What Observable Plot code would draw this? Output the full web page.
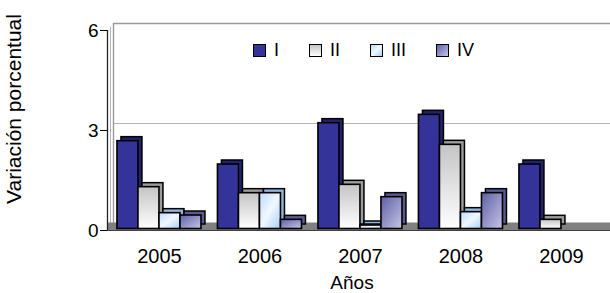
<!DOCTYPE html>
<html>
<head>
<meta charset="utf-8">
<script src="https://cdn.jsdelivr.net/npm/d3@7"></script>
<script src="https://cdn.jsdelivr.net/npm/@observablehq/plot@0.6"></script>
<style>
  html, body { margin: 0; padding: 0; background: #fff; }
  #wrap { position: relative; width: 610px; height: 293px; font-family: "Liberation Sans", Arial, sans-serif; color: #000; }
  #chart { position: absolute; left: 0; top: 0; }
  .ylab { position: absolute; left: -106px; top: 97px; width: 240px; height: 24px; line-height: 24px; text-align: center; font-size: 21px; transform: rotate(-90deg); }
  .xlab { position: absolute; left: 302px; top: 273px; width: 100px; text-align: center; font-size: 19px; line-height: 19px; }
  #legend { position: absolute; left: 253px; top: 43px; display: flex; align-items: center; font-size: 18px; line-height: 14px; }
  #legend .item { display: flex; align-items: center; margin-right: 30px; }
  #legend .sw { width: 13px; height: 13px; box-sizing: border-box; border: 1.6px solid #000; margin-right: 8px; }
</style>
</head>
<body>
<div id="wrap">
  <div id="chart"></div>
  <div class="ylab">Variación porcentual</div>
  <div class="xlab">Años</div>
  <div id="legend"></div>
</div>
<script>
// ---- data ----
const years = ["2005", "2006", "2007", "2008", "2009"];
const quarters = ["I", "II", "III", "IV"];
const serieI   = [2.68, 1.98, 3.22, 3.47, 1.98];
const serieII  = [1.30, 1.12, 1.37, 2.57, 0.32];
const serieIII = [0.52, 1.12, 0.15, 0.55, null];
const serieIV  = [0.45, 0.32, 1.00, 1.12, null];
const yTicks = [0, 3, 6];

// ---- styles ----
const gradIds = ["gI", "gII", "gIII", "gIV"];
const depthColors = ["#22226f", "#9c9c9c", "#8db6da", "#5a5a92"];
const cssGrad = [
  "#333399",
  "linear-gradient(180deg, #c4c4c4, #ffffff)",
  "linear-gradient(135deg, #bcdcff, #f0f8ff 50%, #a8d0f8)",
  "linear-gradient(135deg, #5f5fa5, #c5c5e8)"
];

const series = [serieI, serieII, serieIII, serieIV];
const barW = 0.209;
const rows = [];
series.forEach((vals, j) => {
  vals.forEach((v, i) => {
    if (v == null) return;
    const x1 = i - 2 * barW + barW * j;
    rows.push({year: years[i], q: quarters[j], v, x1, x2: x1 + barW,
               grad: `url(#${gradIds[j]})`, depth: depthColors[j]});
  });
});

const xMin = -0.517, xMax = 4.488;

const chart = Plot.plot({
  width: 610,
  height: 293,
  marginTop: 30,
  marginBottom: 63,
  marginLeft: 107,
  marginRight: 0,
  x: {domain: [xMin, xMax]},
  y: {domain: [0, 6]},
  color: {type: "identity"},
  style: {fontFamily: "'Liberation Sans', Arial, sans-serif", background: "white", color: "#000"},
  marks: [
    // back wall
    Plot.ruleY([3], {dx: 6, dy: -7, stroke: "#b5b5b5", strokeWidth: 1.2}),
    Plot.ruleY([6], {dx: 6, dy: -7, stroke: "#9a9a9a", strokeWidth: 1.4}),
    Plot.ruleX([xMin], {y1: 0, y2: 6, dx: 6, dy: -7, stroke: "#9a9a9a", strokeWidth: 1.4}),
    Plot.ruleX([xMin], {y1: 0, y2: 6, dx: 3, dy: -3, stroke: "#b5b5b5", strokeWidth: 1}),
    // floor
    Plot.ruleY([0], {stroke: "#808080", strokeWidth: 8, dy: -4}),
    Plot.ruleY([0], {stroke: "#404040", strokeWidth: 1}),
    // bar depth (top + side faces)
    Plot.rectY(rows, {x1: "x1", x2: "x2", y1: 0, y2: "v", dx: 4, dy: -4, insetBottom: 2,
                      fill: "depth", stroke: "#000", strokeWidth: 1.5}),
    // bar fronts
    Plot.rectY(rows, {x1: "x1", x2: "x2", y1: 0, y2: "v", insetBottom: 1.5,
                      fill: "grad", stroke: "#000", strokeWidth: 1.6}),
    // axes
    Plot.ruleX([xMin], {y1: 0, y2: 6, stroke: "#222", strokeWidth: 1.3}),
    Plot.axisY({ticks: yTicks, tickFormat: d => String(d), tickSize: 7, tickPadding: 2, fontSize: 19, label: null}),
    Plot.axisX({ticks: years.map((d, i) => i), tickFormat: i => years[i], tickSize: 0,
                tickPadding: 18, fontSize: 20, label: null})
  ]
});

// gradient definitions
const defs = d3.select(chart).insert("defs", ":first-child");
const g1 = defs.append("linearGradient").attr("id", "gI").attr("x1", 0).attr("y1", 0).attr("x2", 0).attr("y2", 1);
g1.append("stop").attr("offset", 0).attr("stop-color", "#333399");
g1.append("stop").attr("offset", 1).attr("stop-color", "#333399");
const g2 = defs.append("linearGradient").attr("id", "gII").attr("x1", 0).attr("y1", 0).attr("x2", 0).attr("y2", 1);
g2.append("stop").attr("offset", 0).attr("stop-color", "#c4c4c4");
g2.append("stop").attr("offset", 1).attr("stop-color", "#ffffff");
const g3 = defs.append("linearGradient").attr("id", "gIII").attr("x1", 0).attr("y1", 0).attr("x2", 1).attr("y2", 1);
g3.append("stop").attr("offset", 0).attr("stop-color", "#bcdcff");
g3.append("stop").attr("offset", 0.5).attr("stop-color", "#f0f8ff");
g3.append("stop").attr("offset", 1).attr("stop-color", "#a8d0f8");
const g4 = defs.append("linearGradient").attr("id", "gIV").attr("x1", 0).attr("y1", 0).attr("x2", 1).attr("y2", 1);
g4.append("stop").attr("offset", 0).attr("stop-color", "#5f5fa5");
g4.append("stop").attr("offset", 1).attr("stop-color", "#c5c5e8");

document.getElementById("chart").appendChild(chart);

// legend
const legend = d3.select("#legend");
quarters.forEach((q, j) => {
  const item = legend.append("div").attr("class", "item");
  item.append("div").attr("class", "sw").style("background", cssGrad[j]);
  item.append("span").text(q);
});
</script>
</body>
</html>
